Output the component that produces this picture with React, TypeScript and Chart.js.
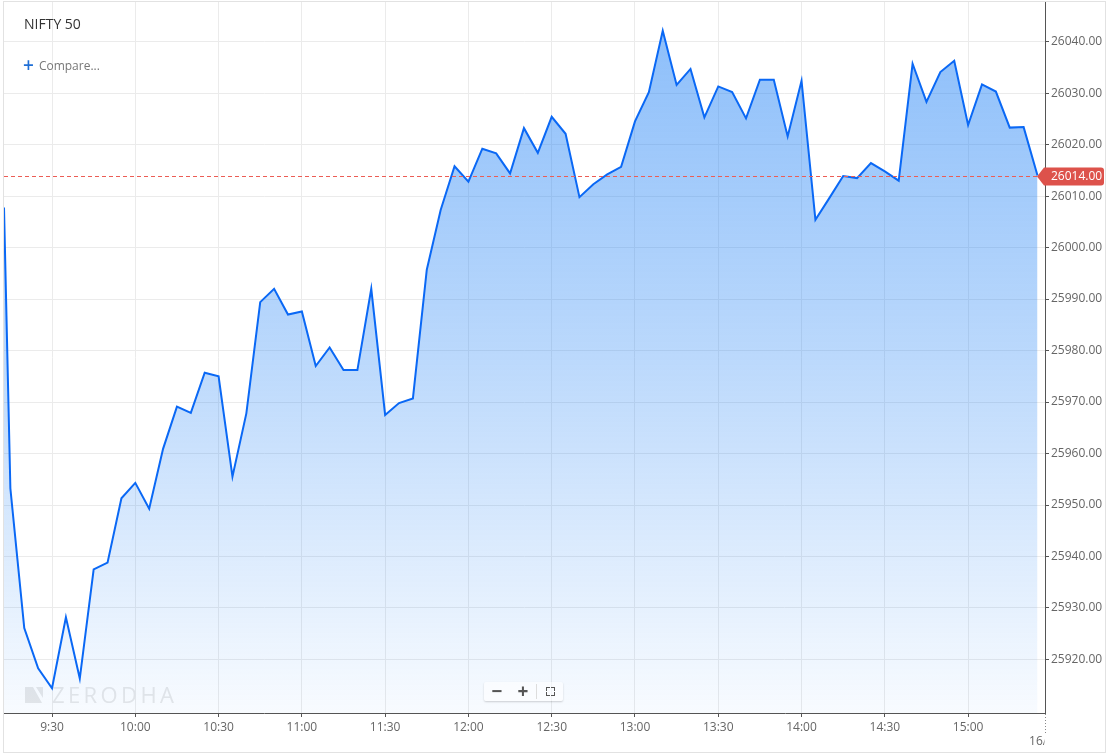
import React, { useEffect, useRef } from "react";
import { Chart, registerables } from "chart.js";

Chart.register(...registerables);

const instrument = "NIFTY 50";
const compareLabel = "Compare...";
const watermark = "ZERODHA";
const nextDayLabel = "16/12";

const times = [
  "9:15", "9:20", "9:25", "9:30", "9:35", "9:40", "9:45", "9:50", "9:55", "10:00",
  "10:05", "10:10", "10:15", "10:20", "10:25", "10:30", "10:35", "10:40", "10:45", "10:50",
  "10:55", "11:00", "11:05", "11:10", "11:15", "11:20", "11:25", "11:30", "11:35", "11:40",
  "11:45", "11:50", "11:55", "12:00", "12:05", "12:10", "12:15", "12:20", "12:25", "12:30",
  "12:35", "12:40", "12:45", "12:50", "12:55", "13:00", "13:05", "13:10", "13:15", "13:20",
  "13:25", "13:30", "13:35", "13:40", "13:45", "13:50", "13:55", "14:00", "14:05", "14:10",
  "14:15", "14:20", "14:25", "14:30", "14:35", "14:40", "14:45", "14:50", "14:55", "15:00",
  "15:05", "15:10", "15:15", "15:20", "15:25",
];

const prices = [
  25953.2, 25926.1, 25918.3, 25914.4, 25928.2, 25916.3, 25937.5, 25938.8, 25951.3, 25954.3,
  25949.3, 25960.9, 25969.1, 25967.9, 25975.7, 25975.0, 25955.5, 25967.8, 25989.4, 25992.0,
  25987.0, 25987.6, 25977.0, 25980.6, 25976.2, 25976.2, 25992.0, 25967.5, 25969.8, 25970.7,
  25995.7, 26007.3, 26015.8, 26012.8, 26019.2, 26018.3, 26014.4, 26023.2, 26018.4, 26025.4,
  26022.1, 26009.8, 26012.3, 26014.2, 26015.7, 26024.5, 26030.2, 26042.1, 26031.6, 26034.7,
  26025.3, 26031.3, 26030.2, 26025.1, 26032.6, 26032.6, 26021.6, 26032.4, 26005.4, 26009.6,
  26013.9, 26013.5, 26016.4, 26014.8, 26013.0, 26035.7, 26028.3, 26034.1, 26036.3, 26023.8,
  26031.7, 26030.3, 26023.3, 26023.4, 26014.0,
];

// line entering from the left edge (previous session)
const leadInMinutes = 552.7;
const leadInPrice = 26007.8;

const lastPrice = 26014.0;

const xTickLabels = ["9:30", "10:00", "10:30", "11:00", "11:30", "12:00", "12:30", "13:00", "13:30", "14:00", "14:30", "15:00"];
const yTickValues = [25920, 25930, 25940, 25950, 25960, 25970, 25980, 25990, 26000, 26010, 26020, 26030, 26040];

const xRange = [552.7, 927.7];
const yRange = [25909.6, 26047.7];

const toMinutes = (t: string) => {
  const [h, m] = t.split(":").map(Number);
  return h * 60 + m;
};
const fmtTime = (v: number) => {
  const h = Math.floor(v / 60);
  const m = Math.round(v - h * 60);
  return `${h}:${String(m).padStart(2, "0")}`;
};

const FONT = "'Open Sans', 'Noto Sans', sans-serif";

const overlayPlugin = {
  id: "overlay",
  beforeDatasetsDraw(chart: any) {
    const { ctx, chartArea } = chart;
    ctx.save();
    // watermark
    const bx = chartArea.left + 21;
    const by = chartArea.bottom - 26;
    ctx.fillStyle = "#e8e8e8";
    ctx.beginPath();
    ctx.moveTo(bx, by);
    ctx.lineTo(bx + 8, by);
    ctx.lineTo(bx + 17, by + 16);
    ctx.lineTo(bx, by + 16);
    ctx.closePath();
    ctx.fill();
    ctx.beginPath();
    ctx.moveTo(bx + 11, by);
    ctx.lineTo(bx + 18, by);
    ctx.lineTo(bx + 18, by + 11);
    ctx.closePath();
    ctx.fill();
    ctx.font = `22px ${FONT}`;
    (ctx as any).letterSpacing = "3.4px";
    ctx.textBaseline = "alphabetic";
    ctx.textAlign = "left";
    ctx.fillText(watermark, bx + 27, by + 16);
    ctx.restore();
  },
  afterDraw(chart: any) {
    const { ctx, chartArea, scales } = chart;
    const y = Math.round(scales.y.getPixelForValue(lastPrice)) + 0.5;
    ctx.save();
    // dashed last-price line
    ctx.strokeStyle = "#ec5d55";
    ctx.lineWidth = 1;
    ctx.setLineDash([4, 3]);
    ctx.beginPath();
    ctx.moveTo(chartArea.left, y);
    ctx.lineTo(chartArea.right, y);
    ctx.stroke();
    ctx.setLineDash([]);

    // price tag
    const r = chartArea.right;
    const h = 9;
    ctx.fillStyle = "#dd524b";
    ctx.beginPath();
    ctx.moveTo(r - 8, y);
    ctx.lineTo(r - 1, y - h);
    ctx.lineTo(r + 56, y - h);
    ctx.quadraticCurveTo(r + 59, y - h, r + 59, y - h + 3);
    ctx.lineTo(r + 59, y + h - 3);
    ctx.quadraticCurveTo(r + 59, y + h, r + 56, y + h);
    ctx.lineTo(r - 1, y + h);
    ctx.closePath();
    ctx.fill();
    ctx.fillStyle = "#ffffff";
    ctx.font = `12px ${FONT}`;
    ctx.textAlign = "left";
    ctx.textBaseline = "middle";
    ctx.fillText(lastPrice.toFixed(2), r + 6, y);

    // next-day marker
    const xr = chartArea.right + 0.5;
    ctx.strokeStyle = "#888";
    ctx.setLineDash([1, 2]);
    ctx.beginPath();
    ctx.moveTo(xr, chartArea.bottom + 1);
    ctx.lineTo(xr, chartArea.bottom + 21);
    ctx.stroke();
    ctx.setLineDash([]);
    ctx.beginPath();
    ctx.rect(chartArea.right - 30, chartArea.bottom + 20, 29.5, 20);
    ctx.clip();
    ctx.fillStyle = "#666";
    ctx.textAlign = "center";
    ctx.font = `12px ${FONT}`;
    ctx.fillText(nextDayLabel, chartArea.right, chartArea.bottom + 29);
    ctx.restore();
  },
};

function PriceChart() {
  const ref = useRef<HTMLCanvasElement | null>(null);
  useEffect(() => {
    if (!ref.current) return;
    const points = [{ x: leadInMinutes, y: leadInPrice }].concat(
      times.map((t, i) => ({ x: toMinutes(t), y: prices[i] }))
    );
    const chart = new Chart(ref.current, {
      type: "line",
      data: {
        datasets: [
          {
            data: points,
            borderColor: "#0a68f5",
            borderWidth: 2,
            pointRadius: 0,
            tension: 0,
            fill: "start",
            backgroundColor: (c: any) => {
              const { chart } = c;
              const area = chart.chartArea;
              if (!area) return "rgba(30,128,245,0.3)";
              const g = chart.ctx.createLinearGradient(0, area.top, 0, area.bottom);
              g.addColorStop(0, "rgba(30,128,245,0.52)");
              g.addColorStop(0.5, "rgba(30,128,245,0.3)");
              g.addColorStop(1, "rgba(30,128,245,0.03)");
              return g;
            },
          },
        ],
      },
      options: {
        animation: false,
        responsive: false,
        events: [],
        layout: { padding: { left: 4, top: 2, right: 0, bottom: 0 } },
        plugins: { legend: { display: false }, tooltip: { enabled: false } },
        scales: {
          x: {
            type: "linear",
            min: xRange[0],
            max: xRange[1],
            afterBuildTicks: (s: any) => {
              s.ticks = xTickLabels.map((t) => ({ value: toMinutes(t) }));
            },
            afterFit: (s: any) => {
              s.height = 42;
              s.paddingLeft = 0;
              s.paddingRight = 0;
            },
            ticks: {
              callback: (v: any) => fmtTime(Number(v)),
              color: "#666",
              font: { family: FONT, size: 12 },
              padding: 3,
              maxRotation: 0,
              autoSkip: false,
            },
            grid: { color: "#ebebeb", tickColor: "#555", tickLength: 4, lineWidth: 1 },
            border: { color: "#555", width: 1 },
          },
          y: {
            type: "linear",
            position: "right",
            min: yRange[0],
            max: yRange[1],
            afterBuildTicks: (s: any) => {
              s.ticks = yTickValues.map((v) => ({ value: v }));
            },
            afterFit: (s: any) => {
              s.width = 61;
              s.paddingTop = 0;
              s.paddingBottom = 0;
            },
            ticks: {
              callback: (v: any) => Number(v).toFixed(2),
              color: "#666",
              font: { family: FONT, size: 12 },
              padding: 2,
            },
            grid: { color: "#ebebeb", tickColor: "#555", tickLength: 4, lineWidth: 1 },
            border: { color: "#555", width: 1 },
          },
        },
      },
      plugins: [overlayPlugin],
    } as any);
    return () => chart.destroy();
  }, []);
  return <canvas ref={ref} width={1106} height={755} style={{ position: "absolute", left: 0, top: 0 }} />;
}

export default function App() {
  useEffect(() => {
    document.body.style.margin = "0";
  }, []);
  return (
    <div style={{ position: "absolute", left: 0, top: 0, width: 1106, height: 755, background: "#fff", fontFamily: FONT, overflow: "hidden" }}>
      <PriceChart />
      <div style={{ position: "absolute", left: 3, top: 1, width: 1103, height: 752, boxSizing: "border-box", border: "1px solid #e2e2e2", pointerEvents: "none" }} />
      <div style={{ position: "absolute", left: 24, top: 14, fontSize: 14, color: "#333", lineHeight: "20px" }}>{instrument}</div>
      <div style={{ position: "absolute", left: 23, top: 56, fontSize: 12, color: "#777", lineHeight: "18px", whiteSpace: "nowrap" }}>
        <span style={{ color: "#1f6fd6", fontSize: 19, fontWeight: 600, marginRight: 5, verticalAlign: "-2px", lineHeight: "18px" }}>+</span>
        {compareLabel}
      </div>
      <div
        style={{
          position: "absolute",
          left: 484,
          top: 682,
          width: 79,
          height: 19,
          background: "rgba(255,255,255,0.55)",
          boxShadow: "0 1px 2px rgba(0,0,0,0.18)",
          borderRadius: 2,
          display: "flex",
          alignItems: "center",
          color: "#555",
          fontWeight: 700,
        }}
      >
        <span style={{ width: 26, textAlign: "center", fontSize: 19, lineHeight: "19px" }}>−</span>
        <span style={{ width: 26, textAlign: "center", fontSize: 19, lineHeight: "19px" }}>+</span>
        <span style={{ width: 1, height: 15, background: "#ddd" }} />
        <span style={{ width: 26, display: "flex", justifyContent: "center" }}>
          <span style={{ position: "relative", width: 9, height: 9 }}>
            <span style={{ position: "absolute", left: 0, top: 0, width: 3, height: 3, borderLeft: "1.5px solid #555", borderTop: "1.5px solid #555" }} />
            <span style={{ position: "absolute", right: 0, top: 0, width: 3, height: 3, borderRight: "1.5px solid #555", borderTop: "1.5px solid #555" }} />
            <span style={{ position: "absolute", left: 0, bottom: 0, width: 3, height: 3, borderLeft: "1.5px solid #555", borderBottom: "1.5px solid #555" }} />
            <span style={{ position: "absolute", right: 0, bottom: 0, width: 3, height: 3, borderRight: "1.5px solid #555", borderBottom: "1.5px solid #555" }} />
          </span>
        </span>
      </div>
    </div>
  );
}
